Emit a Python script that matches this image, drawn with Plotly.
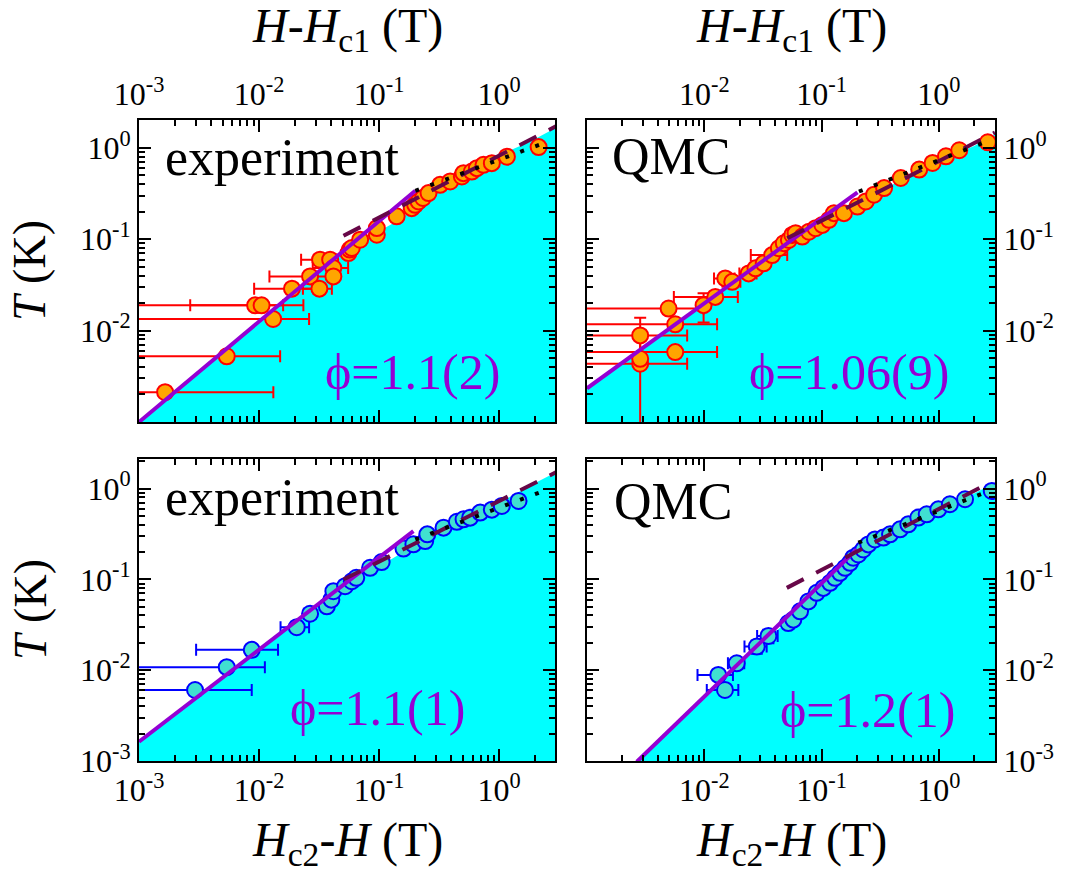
import plotly.graph_objects as go

# ---------------- data ----------------
# Panel A: experiment, x = H - Hc1 (T)
a_x = [0.00165, 0.00538, 0.00927, 0.0105, 0.0131, 0.0188, 0.0266, 0.0318, 0.0322, 0.0391,
       0.0416, 0.0416, 0.0555, 0.057, 0.0592, 0.0695, 0.0957, 0.0957, 0.140, 0.187, 0.1995,
       0.213, 0.232, 0.258, 0.322, 0.391, 0.489, 0.504, 0.592, 0.652, 0.74, 0.869, 1.16, 2.13]
a_T = [0.00212, 0.00524, 0.0189, 0.0189, 0.0134, 0.0288, 0.0392, 0.0288, 0.0597, 0.0597,
       0.0484, 0.0392, 0.0706, 0.077, 0.0802, 0.0988, 0.112, 0.1325, 0.178, 0.219, 0.238,
       0.259, 0.283, 0.32, 0.394, 0.429, 0.486, 0.529, 0.551, 0.60, 0.652, 0.68, 0.80, 1.02]
a_xerr = [0.0115, 0.0096, 0.0066, 0.0129, 0.0130, 0.0097, 0.0144, 0.0086, 0.0098, 0.005,
          0.0136, 0.004, 0, 0, 0, 0, 0, 0, 0, 0, 0, 0, 0, 0, 0, 0, 0, 0, 0, 0, 0, 0, 0, 0]

# Panel B: QMC, x = H - Hc1 (T)
b_x = [0.00284, 0.00284, 0.00284, 0.00565, 0.00565, 0.00496, 0.00986, 0.0124, 0.0151, 0.0173,
       0.0239, 0.0273, 0.0321, 0.0379, 0.0432, 0.0476, 0.0526, 0.0562, 0.06, 0.0684, 0.078,
       0.0889, 0.1014, 0.1155, 0.1274, 0.155, 0.202, 0.238, 0.28, 0.341, 0.473, 0.679, 0.883,
       1.148, 1.49, 2.61]
b_T = [0.00434, 0.00492, 0.00887, 0.00582, 0.01173, 0.01745, 0.019, 0.0234, 0.0373, 0.0342,
       0.0423, 0.048, 0.0545, 0.0671, 0.0797, 0.0904, 0.0982, 0.1115, 0.1164, 0.107, 0.121,
       0.132, 0.1436, 0.163, 0.193, 0.193, 0.228, 0.259, 0.307, 0.363, 0.468, 0.578, 0.684,
       0.809, 0.942, 1.15]
b_xerr = [0.0043, 0, 0.0043, 0.0072, 0.0072, 0.0049, 0, 0.0069, 0.003, 0.003,
          0.004, 0, 0, 0.013, 0, 0, 0, 0, 0, 0, 0, 0, 0, 0, 0, 0, 0, 0, 0, 0, 0, 0, 0, 0, 0, 0]
b_yerr = [0.005, 0, 0.005, 0, 0, 0, 0.0067, 0, 0, 0,
          0, 0, 0, 0, 0, 0, 0, 0, 0, 0, 0, 0, 0, 0, 0, 0, 0, 0, 0, 0, 0, 0, 0, 0, 0, 0]

# Panel C: experiment, x = Hc2 - H (T)
c_x = [0.00293, 0.00538, 0.00869, 0.0206, 0.0266, 0.0367, 0.040, 0.0416, 0.0521, 0.0592,
       0.0645, 0.0841, 0.105, 0.1595, 0.193, 0.242, 0.252, 0.344, 0.444, 0.505, 0.573, 0.695,
       0.869, 1.052, 1.45]
c_T = [0.00605, 0.0108, 0.01675, 0.0297, 0.0418, 0.0505, 0.0598, 0.074, 0.084, 0.0953,
       0.104, 0.134, 0.155, 0.218, 0.243, 0.264, 0.313, 0.371, 0.43, 0.458, 0.478, 0.543,
       0.585, 0.643, 0.73]
c_xerr = [0.00576, 0.0058, 0.0057, 0.0055, 0.003, 0, 0, 0, 0, 0,
          0, 0, 0, 0, 0, 0, 0, 0, 0, 0, 0, 0, 0, 0, 0]

# Panel D: QMC, x = Hc2 - H (T)
d_x = [0.0150, 0.01315, 0.0189, 0.028, 0.0352, 0.052, 0.0574, 0.0655, 0.0771, 0.0908, 0.1035,
       0.118, 0.130, 0.1435, 0.1584, 0.1747, 0.186, 0.2055, 0.2266, 0.25, 0.285, 0.336, 0.383,
       0.466, 0.548, 0.667, 0.787, 0.988, 1.24, 1.67, 2.82]
d_T = [0.00606, 0.00887, 0.0119, 0.0182, 0.0238, 0.033, 0.036, 0.0444, 0.0572, 0.071, 0.0805,
       0.0915, 0.104, 0.118, 0.134, 0.152, 0.173, 0.188, 0.2135, 0.2425, 0.275, 0.288, 0.313,
       0.355, 0.403, 0.479, 0.52, 0.59, 0.671, 0.762, 0.94]
d_xerr = [0.0045, 0.0044, 0.003, 0.006, 0.007, 0, 0, 0, 0, 0, 0,
          0, 0, 0, 0, 0, 0, 0, 0, 0, 0, 0, 0, 0, 0, 0, 0, 0, 0, 0, 0]
d_yerr = [0, 0, 0.0015, 0.003, 0.004, 0, 0, 0, 0, 0, 0,
          0, 0, 0, 0, 0, 0, 0, 0, 0, 0, 0, 0, 0, 0, 0, 0, 0, 0, 0, 0]

# power-law fits (end points of straight lines on log-log axes)
a_fit_x, a_fit_T = [0.001, 0.2], [0.001, 0.339]
a_dash_x, a_dash_T = [0.0505, 3.0], [0.109, 1.73]
a_dot_x, a_dot_T = [0.2, 2.34], [0.339, 1.125]
b_fit_x, b_fit_T = [0.001, 0.202], [0.00234, 0.325]
b_dash_x, b_dash_T = [0.0509, 3.0], [0.1026, 1.47]
b_dot_x, b_dot_T = [0.208, 2.44], [0.333, 1.15]
c_fit_x, c_fit_T = [0.001, 0.193], [0.00163, 0.340]
c_dash_x, c_dash_T = [0.0505, 3.0], [0.0995, 1.52]
c_dot_x, c_dot_T = [0.2, 2.34], [0.275, 0.94]
d_fit_x, d_fit_T = [0.00266, 0.199], [0.00098, 0.2135]
d_dash_x, d_dash_T = [0.0505, 2.6], [0.0806, 1.13]
d_dot_x, d_dot_T = [0.2055, 2.47], [0.253, 0.904]

# phase boundary (upper edge of the shaded region)
a_bx = [0.001, 0.01, 0.05, 0.07, 0.095, 0.14, 0.19, 0.265, 0.5, 0.93, 1.8, 3.0]
a_bT = [0.001, 0.0126, 0.071, 0.098, 0.118, 0.157, 0.21, 0.32, 0.53, 0.80, 1.17, 1.67]
b_bx = [0.001, 0.01, 0.02, 0.045, 0.1, 0.21, 0.47, 1.1, 2.0, 3.0]
b_bT = [0.00234, 0.02, 0.038, 0.08, 0.138, 0.228, 0.45, 0.76, 1.05, 1.40]
c_bx = [0.001, 0.01, 0.039, 0.074, 0.14, 0.266, 0.5, 0.95, 1.8, 3.0]
c_bT = [0.00165, 0.0172, 0.063, 0.109, 0.181, 0.30, 0.46, 0.67, 1.07, 1.52]
d_bx = [0.00266, 0.01, 0.028, 0.05, 0.085, 0.16, 0.276, 0.6, 1.6, 3.0]
d_bT = [0.001, 0.0052, 0.0185, 0.033, 0.06, 0.135, 0.275, 0.458, 0.76, 1.16]

labels = ["experiment", "QMC", "experiment", "QMC"]
phis = ["\u03d5=1.1(2)", "\u03d5=1.06(9)", "\u03d5=1.1(1)", "\u03d5=1.2(1)"]
tick_vals = [0.001, 0.01, 0.1, 1]
tick_text = ["10<sup>-3</sup>", "10<sup>-2</sup>", "10<sup>-1</sup>", "10<sup>0</sup>"]

# ---------------- styling ----------------
W, H = 1073, 881
FONT = "Liberation Serif"
CYAN = "#00FFFF"
VIOLET = "#9400D3"
MAROON = "#670748"

def px2x(p):
    return p / W

def px2y(p):
    return 1 - p / H

panels = [
    dict(x=a_x, T=a_T, xerr=a_xerr, yerr=None, fx=a_fit_x, fT=a_fit_T, dx=a_dash_x, dT=a_dash_T,
         ox=a_dot_x, oT=a_dot_T, bx=a_bx, bT=a_bT, fill="#FFA500", edge="#FF0000",
         dom_x=(139, 555), dom_y=(120, 422), xr=0.465, yr=0.305),
    dict(x=b_x, T=b_T, xerr=b_xerr, yerr=b_yerr, fx=b_fit_x, fT=b_fit_T, dx=b_dash_x, dT=b_dash_T,
         ox=b_dot_x, oT=b_dot_T, bx=b_bx, bT=b_bT, fill="#FFA500", edge="#FF0000",
         dom_x=(587, 995), dom_y=(120, 422), xr=0.478, yr=0.305),
    dict(x=c_x, T=c_T, xerr=c_xerr, yerr=None, fx=c_fit_x, fT=c_fit_T, dx=c_dash_x, dT=c_dash_T,
         ox=c_dot_x, oT=c_dot_T, bx=c_bx, bT=c_bT, fill="#40E0D0", edge="#0000FF",
         dom_x=(139, 555), dom_y=(459, 761), xr=0.465, yr=0.325),
    dict(x=d_x, T=d_T, xerr=d_xerr, yerr=d_yerr, fx=d_fit_x, fT=d_fit_T, dx=d_dash_x, dT=d_dash_T,
         ox=d_dot_x, oT=d_dot_T, bx=d_bx, bT=d_bT, fill="#40E0D0", edge="#0000FF",
         dom_x=(587, 995), dom_y=(459, 761), xr=0.478, yr=0.325),
]

fig = go.Figure()
layout = dict(width=W, height=H, margin=dict(l=0, r=0, t=0, b=0, pad=0, autoexpand=False),
              paper_bgcolor="white", plot_bgcolor="white", showlegend=False,
              font=dict(family=FONT, color="black"))

for i, p in enumerate(panels):
    n = "" if i == 0 else str(i + 1)
    xa, ya = "x" + n, "y" + n
    # shaded region under the phase boundary
    fig.add_trace(go.Scatter(
        x=p["bx"] + [10, 10, 1e-4, 1e-4], y=p["bT"] + [p["bT"][-1], 1e-5, 1e-5, p["bT"][0]],
        fill="toself", fillcolor=CYAN, line=dict(width=0), mode="lines",
        hoverinfo="skip", xaxis=xa, yaxis=ya))
    ex = dict(type="data", array=p["xerr"], color=p["edge"], thickness=2, width=6)
    ey = dict(type="data", array=p["yerr"], color=p["edge"], thickness=2, width=6) if p["yerr"] else None
    fig.add_trace(go.Scatter(
        x=p["x"], y=p["T"], mode="markers", error_x=ex, error_y=ey,
        marker=dict(size=16, color=p["fill"], line=dict(color=p["edge"], width=2)),
        xaxis=xa, yaxis=ya))
    fig.add_trace(go.Scatter(x=p["fx"], y=p["fT"], mode="lines",
                             line=dict(color=VIOLET, width=4), xaxis=xa, yaxis=ya))
    fig.add_trace(go.Scatter(x=p["dx"], y=p["dT"], mode="lines",
                             line=dict(color=MAROON, width=4, dash="19px,14px"), xaxis=xa, yaxis=ya))
    fig.add_trace(go.Scatter(x=p["ox"], y=p["oT"], mode="lines",
                             line=dict(color="black", width=4, dash="4px,12px"), xaxis=xa, yaxis=ya))

    top = i < 2
    right = i % 2 == 1
    xtv = tick_vals if not right else tick_vals[1:]
    xtt = tick_text if not right else tick_text[1:]
    ytv = tick_vals if not top else tick_vals[1:]
    ytt = tick_text if not top else tick_text[1:]
    common = dict(type="log", showline=True, linewidth=2, linecolor="black", mirror="allticks",
                  ticks="inside", ticklen=12, tickwidth=2, tickcolor="black",
                  showgrid=False, zeroline=False, automargin=False,
                  tickfont=dict(family=FONT, size=32, color="black"),
                  minor=dict(dtick="D1", ticks="inside", ticklen=6, tickwidth=1.5,
                             tickcolor="black", showgrid=False))
    layout["xaxis" + n] = dict(common, domain=[px2x(p["dom_x"][0]), px2x(p["dom_x"][1])],
                               range=[-3, p["xr"]], anchor=ya, side="top" if top else "bottom",
                               tickmode="array", tickvals=xtv, ticktext=xtt)
    layout["yaxis" + n] = dict(common, domain=[px2y(p["dom_y"][1]), px2y(p["dom_y"][0])],
                               range=[-3, p["yr"]], anchor=xa, side="right" if right else "left",
                               tickmode="array", tickvals=ytv, ticktext=ytt)

ann = []
# panel labels and exponents
lab_pos = [(163, 157), (610, 156), (163, 497), (612, 501)]
phi_pos = [(323, 372), (747, 372), (288, 708), (778, 710)]
for i in range(4):
    ann.append(dict(text=labels[i], x=px2x(lab_pos[i][0]), y=px2y(lab_pos[i][1]),
                    xref="paper", yref="paper", xanchor="left", yanchor="middle",
                    showarrow=False, font=dict(family=FONT, size=52, color="black")))
    ann.append(dict(text=phis[i], x=px2x(phi_pos[i][0]), y=px2y(phi_pos[i][1]),
                    xref="paper", yref="paper", xanchor="left", yanchor="middle",
                    showarrow=False, font=dict(family=FONT, size=50, color=VIOLET)))
# axis titles
for cx in (347, 791):
    ann.append(dict(text="<i>H</i>-<i>H</i><sub>c1</sub> (T)", x=px2x(cx), y=px2y(29),
                    xref="paper", yref="paper", xanchor="center", yanchor="middle",
                    showarrow=False, font=dict(family=FONT, size=48, color="black")))
    ann.append(dict(text="<i>H</i><sub>c2</sub>-<i>H</i> (T)", x=px2x(cx), y=px2y(843),
                    xref="paper", yref="paper", xanchor="center", yanchor="middle",
                    showarrow=False, font=dict(family=FONT, size=48, color="black")))
for cy in (271, 610):
    ann.append(dict(text="<i>T</i> (K)", x=px2x(30), y=px2y(cy), textangle=-90,
                    xref="paper", yref="paper", xanchor="center", yanchor="middle",
                    showarrow=False, font=dict(family=FONT, size=46, color="black")))
layout["annotations"] = ann

fig.update_layout(**layout)
fig.write_html("out.html", config={"displayModeBar": False},
               post_script="document.body.style.margin='0';")
